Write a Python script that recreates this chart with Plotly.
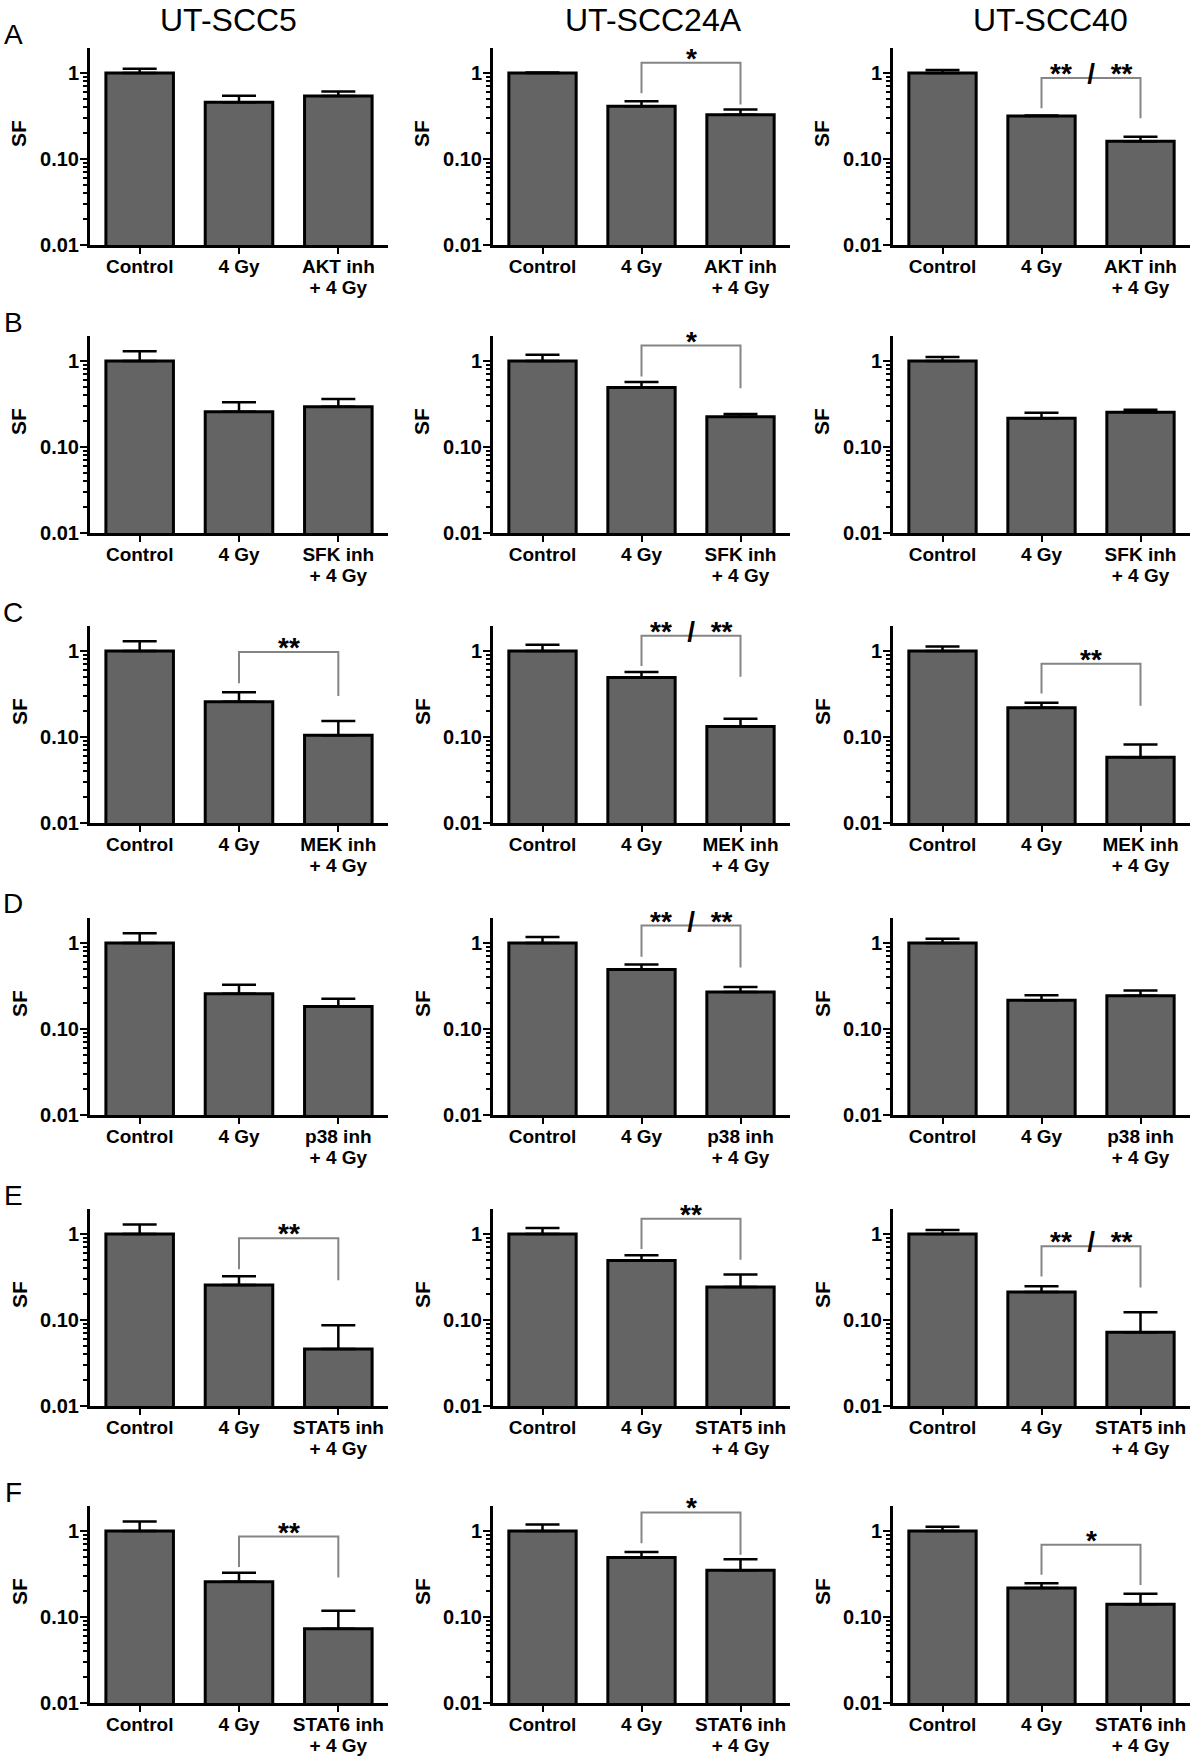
import math
import plotly.graph_objects as go

# ---------------- data ----------------
cell_lines = ["UT-SCC5", "UT-SCC24A", "UT-SCC40"]
panel_letters = ["A", "B", "C", "D", "E", "F"]
inhibitors = ["AKT inh", "SFK inh", "MEK inh", "p38 inh", "STAT5 inh", "STAT6 inh"]
groups = ["Control", "4 Gy"]

# surviving fraction (bar heights), rows = panels A-F, cols = cell lines
control_sf = [
    [1.0, 1.0, 1.0],
    [1.0, 1.0, 1.0],
    [1.0, 1.0, 1.0],
    [1.0, 1.0, 1.0],
    [1.0, 1.0, 1.0],
    [1.0, 1.0, 1.0],
]
gy4_sf = [
    [0.455, 0.41, 0.316],
    [0.257, 0.49, 0.216],
    [0.257, 0.49, 0.218],
    [0.257, 0.49, 0.216],
    [0.255, 0.49, 0.212],
    [0.256, 0.49, 0.217],
]
inh_sf = [
    [0.538, 0.326, 0.161],
    [0.294, 0.224, 0.253],
    [0.105, 0.132, 0.058],
    [0.183, 0.269, 0.244],
    [0.046, 0.242, 0.072],
    [0.073, 0.35, 0.141],
]
# upper end of error bars
control_top = [
    [1.12, 1.01, 1.08],
    [1.30, 1.18, 1.11],
    [1.30, 1.18, 1.13],
    [1.30, 1.17, 1.12],
    [1.29, 1.17, 1.11],
    [1.29, 1.19, 1.12],
]
gy4_top = [
    [0.543, 0.47, 0.32],
    [0.33, 0.57, 0.25],
    [0.33, 0.57, 0.25],
    [0.326, 0.56, 0.246],
    [0.323, 0.566, 0.246],
    [0.327, 0.57, 0.247],
]
inh_top = [
    [0.609, 0.375, 0.181],
    [0.36, 0.242, 0.271],
    [0.153, 0.163, 0.082],
    [0.224, 0.307, 0.28],
    [0.087, 0.338, 0.123],
    [0.118, 0.47, 0.186],
]
# significance brackets (4 Gy vs inhibitor + 4 Gy)
sig_label = [
    [None, "*", "**  /  **"],
    [None, "*", None],
    ["**", "**  /  **", "**"],
    [None, "**  /  **", None],
    ["**", "**", "**  /  **"],
    ["**", "*", "*"],
]
sig_bar = [
    [None, 1.31, 0.875],
    [None, 1.51, None],
    [0.975, 1.5, 0.71],
    [None, 1.59, None],
    [0.89, 1.5, 0.72],
    [0.86, 1.64, 0.69],
]
sig_left = [
    [None, 0.58, 0.39],
    [None, 0.66, None],
    [0.42, 0.67, 0.32],
    [None, 0.69, None],
    [0.39, 0.67, 0.32],
    [0.38, 0.72, 0.31],
]
sig_right = [
    [None, 0.43, 0.297],
    [None, 0.48, None],
    [0.30, 0.5, 0.23],
    [None, 0.52, None],
    [0.29, 0.5, 0.238],
    [0.288, 0.53, 0.235],
]

# ---------------- layout geometry (pixels) ----------------
W, H = 1200, 1758
col_left = [90, 493, 893]
col_right = [388, 790, 1190]
row_bottom = [245, 533, 823, 1115, 1406, 1703]
plot_h = 197
title_x = [228, 653, 1050]

FONT = "Liberation Sans, Arial, Helvetica, sans-serif"
BAR_COLOR = "#646464"
BRACKET_COLOR = "#858585"


def px(x):
    return x / W


def py(y):
    return 1 - y / H


def big(s):
    return f'<span style="font-size:19px">{s}</span>'


fig = go.Figure()
layout = dict(
    width=W,
    height=H,
    margin=dict(l=0, r=0, t=0, b=0, autoexpand=False),
    paper_bgcolor="white",
    plot_bgcolor="white",
    showlegend=False,
    font=dict(family=FONT, color="black"),
)
annotations = []

n = 0
for r in range(6):
    for c in range(3):
        n += 1
        xa = "x" if n == 1 else f"x{n}"
        ya = "y" if n == 1 else f"y{n}"
        xkey = "xaxis" if n == 1 else f"xaxis{n}"
        ykey = "yaxis" if n == 1 else f"yaxis{n}"

        vals = [control_sf[r][c], gy4_sf[r][c], inh_sf[r][c]]
        tops = [control_top[r][c], gy4_top[r][c], inh_top[r][c]]
        errs = [t - v for t, v in zip(tops, vals)]

        fig.add_trace(go.Bar(
            x=[0, 1, 2], y=vals, xaxis=xa, yaxis=ya,
            width=0.68,
            marker=dict(color=BAR_COLOR, line=dict(color="black", width=3)),
            error_y=dict(type="data", symmetric=False, array=errs,
                         arrayminus=[0, 0, 0], color="black",
                         thickness=2.5, width=17),
            hoverinfo="skip",
        ))

        if sig_label[r][c] is not None:
            fig.add_trace(go.Scatter(
                x=[1, 1, 2, 2],
                y=[sig_left[r][c], sig_bar[r][c], sig_bar[r][c], sig_right[r][c]],
                xaxis=xa, yaxis=ya, mode="lines",
                line=dict(color=BRACKET_COLOR, width=2),
                hoverinfo="skip",
            ))
            annotations.append(dict(
                x=1.5, y=math.log10(sig_bar[r][c]), xref=xa, yref=ya,
                text=sig_label[r][c], showarrow=False,
                yanchor="bottom", yshift=-13,
                font=dict(size=28, family=FONT, weight="bold", color="black"),
            ))

        top_px = row_bottom[r] - plot_h
        layout[xkey] = dict(
            domain=[px(col_left[c]), px(col_right[c])],
            anchor=ya,
            automargin=False,
            range=[-0.5, 2.5],
            tickmode="array",
            tickvals=[0, 1, 2],
            ticktext=[big(groups[0]), big(groups[1]),
                      big(inhibitors[r]) + "<br>" + big("+ 4 Gy")],
            ticks="outside", ticklen=6, tickwidth=2, tickcolor="black",
            showline=True, linewidth=3, linecolor="black",
            showgrid=False, zeroline=False, fixedrange=True,
            tickfont=dict(size=16, family=FONT, weight="bold", color="black"),
        )
        layout[ykey] = dict(
            domain=[py(row_bottom[r]), py(top_px)],
            anchor=xa,
            automargin=False,
            type="log",
            range=[-2, 0.29],
            tickmode="array",
            tickvals=[0.01, 0.1, 1],
            ticktext=["0.01", "0.10", "1"],
            ticks="outside", ticklen=7, tickwidth=2, tickcolor="black",
            ticklabelstandoff=-3,
            minor=dict(tickmode="linear", dtick="D1", ticks="outside",
                       ticklen=4, tickwidth=2, tickcolor="black", showgrid=False),
            showline=True, linewidth=3, linecolor="black",
            showgrid=False, zeroline=False, fixedrange=True,
            tickfont=dict(size=20, family=FONT, weight="bold", color="black"),
        )

        # y-axis title "SF"
        annotations.append(dict(
            x=px(col_left[c] - 71), y=py(top_px + 86), xref="paper", yref="paper",
            text="SF", showarrow=False, textangle=-90,
            xanchor="center", yanchor="middle",
            font=dict(size=21, family=FONT, weight="bold", color="black"),
        ))

    # panel letter
    annotations.append(dict(
        x=px(13), y=py(row_bottom[r] - plot_h - 14), xref="paper", yref="paper",
        text=panel_letters[r], showarrow=False, xanchor="center", yanchor="middle",
        font=dict(size=28, family=FONT, color="black"),
    ))

# column titles
for c in range(3):
    annotations.append(dict(
        x=px(title_x[c]), y=1.0, xref="paper", yref="paper",
        text=cell_lines[c], showarrow=False, xanchor="center", yanchor="top",
        font=dict(size=32, family=FONT, color="black"),
    ))

layout["annotations"] = annotations
fig.update_layout(**layout)
fig.write_html(
    "out.html",
    config={"displayModeBar": False},
    post_script=(
        "document.documentElement.style.margin='0';"
        "document.documentElement.style.overflow='hidden';"
        "document.body.style.margin='0';"
        "document.body.style.padding='0';"
        "document.body.style.overflow='hidden';"
    ),
)
